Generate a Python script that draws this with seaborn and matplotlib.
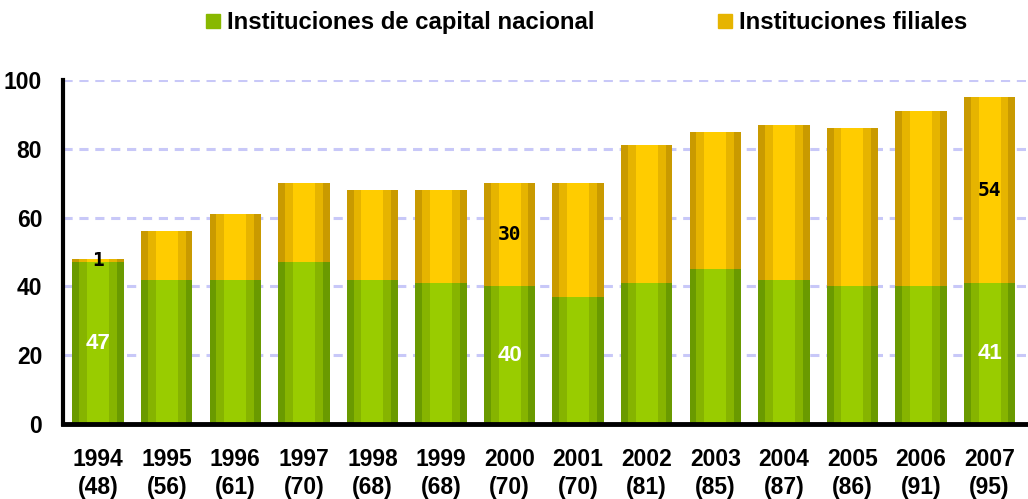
import matplotlib
matplotlib.use("Agg")
import matplotlib.pyplot as plt
from matplotlib.lines import Line2D
import seaborn as sns
import pandas as pd

# ---- data ----
years = ["1994", "1995", "1996", "1997", "1998", "1999", "2000",
         "2001", "2002", "2003", "2004", "2005", "2006", "2007"]
totals_label = [48, 56, 61, 70, 68, 68, 70, 70, 81, 85, 87, 86, 91, 95]
nacional = [47, 42, 42, 47, 42, 41, 40, 37, 41, 45, 42, 40, 40, 41]
filiales = [1, 14, 19, 23, 26, 27, 30, 33, 40, 40, 45, 46, 51, 54]
labeled_years = ["1994", "2000", "2007"]
yticks = [0, 20, 40, 60, 80, 100]
series_names = ["Instituciones de capital nacional", "Instituciones filiales"]

sns.set_theme(style="white", rc={"text.color": "black", "xtick.color": "black",
                                 "ytick.color": "black", "axes.labelcolor": "black"})
plt.rcParams["font.family"] = ["Liberation Sans", "DejaVu Sans"]

df = pd.DataFrame({"year": years, "nacional": nacional, "filiales": filiales})
df["total"] = df["nacional"] + df["filiales"]
df["label"] = [f"{y}\n({t})" for y, t in zip(years, totals_label)]

fig = plt.figure(figsize=(10.28, 4.99), dpi=100)
ax = fig.add_axes([63 / 1028, 75 / 499, (1028 - 63) / 1028, 344 / 499])

green_layers = [("#6a9a00", 0.75), ("#86b400", 0.55), ("#99cc00", 0.32)]
gold_layers = [("#c99a00", 0.75), ("#e6b400", 0.55), ("#ffcc00", 0.32)]

for col, w in gold_layers:
    sns.barplot(data=df, x="year", y="total", color=col, saturation=1,
                width=w, errorbar=None, linewidth=0, ax=ax, zorder=3)
for col, w in green_layers:
    sns.barplot(data=df, x="year", y="nacional", color=col, saturation=1,
                width=w, errorbar=None, linewidth=0, ax=ax, zorder=4)

# value labels
for i, y in enumerate(years):
    if y in labeled_years:
        n = nacional[i]
        f = filiales[i]
        ax.text(i, n / 2, str(n), ha="center", va="center", color="white",
                fontsize=16, fontweight="bold", zorder=6)
        ax.text(i, n + f / 2, str(f), ha="center", va="center", color="black",
                fontsize=14, fontweight="bold", family="DejaVu Sans Mono", zorder=6)

# axes limits and grid
x0 = (63 - 98.5) / 69.3
x1 = (1028 - 98.5) / 69.3
ax.set_xlim(x0, x1)
ax.set_ylim(0, 100)
for gy in yticks[1:]:
    ax.axhline(gy, color="#c8c8f8", lw=2.2, ls=(0, (3, 2.2)), zorder=1)

ax.set_yticks(yticks)
ax.set_yticklabels([str(v) for v in yticks], fontsize=16.5, fontweight="bold")
ax.set_xticks(range(len(years)))
ax.set_xticklabels(df["label"], fontsize=16.5, fontweight="bold", linespacing=1.32)
ax.set_xticks([k - 0.44 for k in range(len(years) + 1)], minor=True)
ax.tick_params(axis="x", which="major", length=0, pad=17)
ax.tick_params(axis="x", which="minor", length=7, width=3, direction="out", color="black")
ax.tick_params(axis="y", length=6, width=3, direction="out", color="black", pad=9)
ax.set_xlabel("")
ax.set_ylabel("")

for s in ["top", "right"]:
    ax.spines[s].set_visible(False)
ax.spines["left"].set_linewidth(3)
ax.spines["left"].set_color("black")
ax.spines["bottom"].set_linewidth(3.5)
ax.spines["bottom"].set_color("black")
ax.spines["left"].set_zorder(7)
ax.spines["bottom"].set_zorder(7)

handles = [Line2D([], [], marker="s", ls="", markersize=10, color="#88b800"),
           Line2D([], [], marker="s", ls="", markersize=10, color="#e6b400")]
fig.legend(handles, series_names, loc="center", bbox_to_anchor=(0.568, 0.955), ncol=2,
           frameon=False, handletextpad=0.1, columnspacing=4.95, handlelength=1.0,
           prop={"size": 17.2, "weight": "bold"})

fig.savefig("out.png", dpi=100)
